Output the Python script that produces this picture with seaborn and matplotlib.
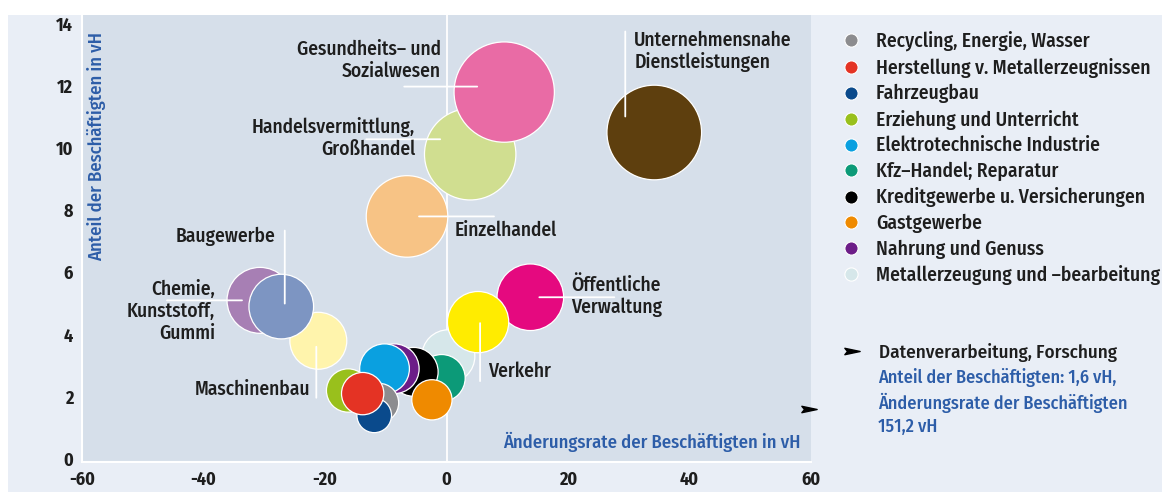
import numpy as np
import pandas as pd
import matplotlib
matplotlib.use("Agg")
import matplotlib.pyplot as plt
import matplotlib.transforms as mtransforms
from matplotlib.lines import Line2D
from matplotlib.patches import Rectangle
from matplotlib.path import Path
import seaborn as sns

# --- data: branches in drawing order (bottom to top) ---
branchen = [
    "Chemie, Kunststoff, Gummi",
    "Maschinenbau",
    "Baugewerbe",
    "Handelsvermittlung, Großhandel",
    "Einzelhandel",
    "Gesundheits- und Sozialwesen",
    "Unternehmensnahe Dienstleistungen",
    "Öffentliche Verwaltung",
    "Metallerzeugung und -bearbeitung",
    "Verkehr",
    "Kfz-Handel; Reparatur",
    "Kreditgewerbe u. Versicherungen",
    "Nahrung und Genuss",
    "Elektrotechnische Industrie",
    "Gastgewerbe",
    "Recycling, Energie, Wasser",
    "Fahrzeugbau",
    "Erziehung und Unterricht",
    "Herstellung v. Metallerzeugnissen",
]
# change rate of employment in vH (x)
aenderung = [-30.7, -21.1, -27.2, 3.9, -6.5, 9.5, 34.2, 13.8, 0.3, 5.2,
             -0.8, -5.4, -8.6, -10.2, -2.4, -11.1, -11.9, -16.2, -13.8]
# share of employment in vH (y, also bubble area)
anteil = [5.1, 3.8, 4.9, 9.8, 7.8, 11.8, 10.5, 5.2, 3.3, 4.4,
          2.6, 2.8, 2.9, 2.9, 1.9, 1.8, 1.4, 2.2, 2.1]
farben = ["#a77fb4", "#fff4ac", "#7d95c2", "#d0de90", "#f7c385", "#e96ba5",
          "#5e3f0e", "#e5097f", "#d6e7ea", "#ffec00", "#0c9a78", "#000000",
          "#6c1d88", "#0aa0e0", "#ef8a00", "#8c8c8f", "#0a4a8c", "#99c01c",
          "#e43324"]

legende = [
    "Recycling, Energie, Wasser",
    "Herstellung v. Metallerzeugnissen",
    "Fahrzeugbau",
    "Erziehung und Unterricht",
    "Elektrotechnische Industrie",
    "Kfz-Handel; Reparatur",
    "Kreditgewerbe u. Versicherungen",
    "Gastgewerbe",
    "Nahrung und Genuss",
    "Metallerzeugung und -bearbeitung",
]
legende_text = [t.replace("-Handel", "–Handel").replace("-bearb", "–bearb") for t in legende]

# off-scale branch shown as an arrow at the right edge
dv_name = "Datenverarbeitung, Forschung"
dv_anteil = 1.6
dv_aenderung = 151.2

x_ticks = [-60, -40, -20, 0, 20, 40, 60]
y_ticks = [0, 2, 4, 6, 8, 10, 12, 14]

# direct labels: text, alignment, text offset and leader line (pixels from bubble centre)
beschriftung = {
    "Gesundheits- und Sozialwesen": ("Gesundheits– und\nSozialwesen", "right", (-63, 32), ((-100, 5.5), (-27, 5.5))),
    "Unternehmensnahe Dienstleistungen": ("Unternehmensnahe\nDienstleistungen", "left", (-20, 81), ((-29, 101), (-29, 16))),
    "Handelsvermittlung, Großhandel": ("Handelsvermittlung,\nGroßhandel", "right", (-55, 16), ((-104, 15), (-30, 15))),
    "Einzelhandel": ("Einzelhandel", "left", (48, -14), ((12, 0), (87, 0))),
    "Öffentliche Verwaltung": ("Öffentliche\nVerwaltung", "left", (41, 1), ((9, 0), (84, 0))),
    "Verkehr": ("Verkehr", "left", (10, -49), ((2, -1), (2, -59))),
    "Baugewerbe": ("Baugewerbe", "right", (-6, 70), ((3.5, 76), (3.5, 3))),
    "Chemie, Kunststoff, Gummi": ("Chemie,\nKunststoff,\nGummi", "right", (-45, -11), ((-93, 0), (-18, 0))),
    "Maschinenbau": ("Maschinenbau", "right", (-8, -49), ((-2, -6), (-2, -57))),
}

df = pd.DataFrame({"branche": branchen, "aenderung": aenderung, "anteil": anteil})
palette = dict(zip(branchen, farben))

sns.set_style("white")
plt.rcParams["font.family"] = ["Fira Sans Condensed", "DejaVu Sans"]
plt.rcParams["axes.unicode_minus"] = False

TEXT = "#1e1e1e"
BLUE = "#2d5da8"
PANEL = "#e9eef6"
PLOT_BG = "#d6dfea"

W, H = 1162, 492
fig = plt.figure(figsize=(W / 100, H / 100), dpi=100)
fig.patch.set_facecolor("white")
fig.patches.append(Rectangle((8 / W, 0), 1, 477 / H, transform=fig.transFigure,
                             facecolor=PANEL, edgecolor="none", zorder=-5))

ax = fig.add_axes([82 / W, 30 / H, 729 / W, 447 / H])
ax.set_facecolor(PLOT_BG)
ax.axvline(0, color="white", lw=1.3, zorder=1)

# bubble area proportional to the employment share
s_per_unit = 442
sns.scatterplot(data=df, x="aenderung", y="anteil", hue="branche", palette=palette,
                size="anteil", sizes=(0, s_per_unit * 14), size_norm=(0, 14),
                edgecolor="white", linewidth=0.9, legend=False, ax=ax, zorder=3)

ax.set_xlim(-60, 60)
ax.set_ylim(-0.1, 14.28)
ax.set_xticks(x_ticks)
ax.set_yticks(y_ticks)
ax.set_xticklabels([str(v) for v in x_ticks])
ax.set_yticklabels([str(v) for v in y_ticks])
ax.tick_params(length=0, pad=6.5, labelsize=13, colors=TEXT)
for lab in ax.get_xticklabels() + ax.get_yticklabels():
    lab.set_fontweight("bold")
for side in ["top", "right"]:
    ax.spines[side].set_visible(False)
for side in ["left", "bottom"]:
    ax.spines[side].set_color("white")
    ax.spines[side].set_linewidth(1.5)

ax.set_xlabel("Änderungsrate der Beschäftigten in vH", loc="right", color=BLUE,
              fontsize=13.4, fontweight="medium")
ax.xaxis.set_label_coords(0.986, 0.045)
ax.xaxis.label.set_va("center")
ax.set_ylabel("Anteil der Beschäftigten in vH", loc="top", color=BLUE,
              fontsize=13.4, fontweight="medium")
ax.yaxis.set_label_coords(0.02, 0.963)
ax.yaxis.label.set_va("center")


def off(dx, dy):
    return mtransforms.offset_copy(ax.transData, fig=fig, x=dx, y=dy, units="dots")


for name, (txt, ha, (tx, ty), (p0, p1)) in beschriftung.items():
    i = branchen.index(name)
    x, y = aenderung[i], anteil[i]
    ax.annotate("", xy=(x, y), xycoords=off(*p1), xytext=(x, y), textcoords=off(*p0),
                arrowprops=dict(arrowstyle="-", color="white", lw=1.3,
                                shrinkA=0, shrinkB=0), zorder=5)
    ax.text(x, y, txt, transform=off(tx, ty), ha=ha, va="center", multialignment=ha,
            fontsize=14, fontweight="medium", color=TEXT, linespacing=1.15, zorder=6)

# arrow head for the off-scale branch
pfeil = Path([(-1, -0.42), (1, 0), (-1, 0.42), (-0.65, 0), (-1, -0.42)],
             [Path.MOVETO, Path.LINETO, Path.LINETO, Path.LINETO, Path.CLOSEPOLY])
edge = mtransforms.blended_transform_factory(ax.transAxes, ax.transData)
ax.plot([0.997 if dv_aenderung > ax.get_xlim()[1] else dv_aenderung], [dv_anteil],
        marker=pfeil, markersize=11, color="black", ls="", transform=edge,
        clip_on=False, zorder=6)

# legend of the unlabelled bubbles
handles = [Line2D([], [], marker="o", ls="", markersize=9.5,
                  markerfacecolor=palette[n], markeredgecolor="white",
                  markeredgewidth=0.8, label=t)
           for n, t in zip(legende, legende_text)]
leg = fig.legend(handles=handles, loc="upper left", bbox_to_anchor=(842 / W, 1 - 31 / H),
                 frameon=False, handlelength=0.96, handletextpad=0.77,
                 labelspacing=0.32, borderpad=0, borderaxespad=0,
                 prop={"weight": "medium", "size": 14.1})
for t in leg.get_texts():
    t.set_color(TEXT)

dv_handle = Line2D([], [], marker=pfeil, ls="", markersize=11, color="black", label=dv_name)
leg2 = fig.legend(handles=[dv_handle], loc="upper left", bbox_to_anchor=(842 / W, 1 - 343 / H),
                  frameon=False, handlelength=1.0, handletextpad=0.95,
                  borderpad=0, borderaxespad=0, prop={"weight": "medium", "size": 13.7})
leg2.get_texts()[0].set_color(TEXT)

dv_info = (f"Anteil der Beschäftigten: {dv_anteil:.1f} vH,\n"
           f"Änderungsrate der Beschäftigten\n{dv_aenderung:.1f} vH").replace(".", ",")
fig.text(878 / W, 1 - 368 / H, dv_info, ha="left", va="top", fontsize=13.1,
         fontweight="medium", color=BLUE, linespacing=1.35)

fig.savefig("out.png", dpi=100)
